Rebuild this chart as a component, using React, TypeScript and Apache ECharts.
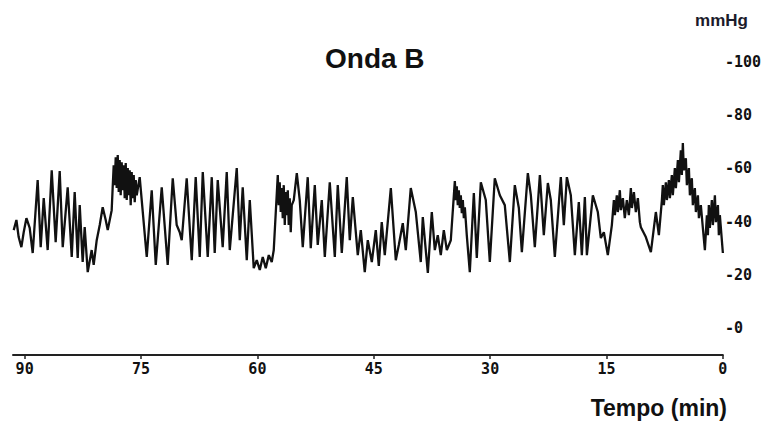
import React, { useEffect, useRef } from "react";
import * as echarts from "echarts";

// Time before the end of the recording (min) and intracranial pressure (mmHg)
const minutes = [
  91.41, 91.06, 90.77, 90.42, 90.12, 89.77, 89.35, 88.96, 88.32, 87.93,
  87.54, 87.03, 86.51, 86.0, 85.48, 85.09, 84.45, 83.93, 83.55, 83.16,
  82.9, 82.52, 82.26, 81.87, 81.36, 81.1, 80.71, 80.32, 79.94, 79.55,
  79.29, 78.78,
  78.65, 78.52, 78.39, 78.26, 78.13, 78.0, 77.87, 77.75, 77.62, 77.49,
  77.36, 77.23, 77.1, 76.97, 76.84, 76.71, 76.58, 76.46, 76.33, 76.2,
  76.07, 75.94, 75.81, 75.68, 75.55,
  75.17, 74.26, 73.62, 73.1, 72.33,
  71.56, 70.91, 70.4, 70.01, 69.75, 69.11, 68.46, 67.95, 67.43, 67.04,
  66.4, 65.88, 65.5, 65.11, 64.47, 63.95, 63.56, 62.66, 62.27, 61.89,
  61.37, 60.98, 60.47, 60.08, 59.69, 59.31, 58.92, 58.53, 58.15, 57.89,
  57.37, 57.25, 57.12, 56.99, 56.86, 56.73, 56.6, 56.47, 56.34, 56.21,
  56.08, 55.96, 55.83, 55.7, 55.57, 55.31,
  54.92, 54.54, 54.15,
  53.51, 53.12, 52.6, 52.22, 51.7, 51.31, 50.67, 50.02, 49.64, 49.12,
  48.48, 48.09, 47.7, 47.06, 46.67, 46.16, 45.77, 45.25, 44.74, 44.35,
  43.97, 43.58, 42.8, 42.16, 41.77, 41.26, 40.87, 40.23, 39.58, 38.94,
  38.68, 38.03, 37.52, 37.13, 36.75, 36.36, 35.97, 35.58, 35.07,
  34.55, 34.42, 34.3, 34.17, 34.04, 33.91, 33.78, 33.65, 33.52, 33.39,
  33.26, 33.01,
  32.62, 32.1, 31.72, 31.2, 30.56, 30.04, 29.4, 28.75,
  28.11, 27.46, 26.82, 26.3, 25.91, 25.14, 24.75, 24.24, 23.59, 23.08,
  22.56, 22.18, 21.66, 20.89, 20.5, 20.11, 19.6, 19.08, 18.57, 18.18,
  17.79, 17.53, 16.76, 16.12, 15.73, 15.34, 14.83,
  14.31, 14.05, 13.92, 13.67, 13.54, 13.28, 13.15, 12.89, 12.64, 12.38,
  12.12, 11.86, 11.73, 11.47, 11.22, 10.96, 10.7, 10.57,
  9.93, 9.28, 8.64, 8.25,
  7.86, 7.74, 7.61, 7.35, 7.22, 6.96, 6.83, 6.58, 6.45, 6.19,
  6.06, 5.8, 5.67, 5.42, 5.29, 5.16, 5.03, 4.77, 4.64, 4.38,
  4.25, 4.0, 3.87, 3.61, 3.48, 3.22, 3.09, 2.84, 2.58, 2.32,
  2.06, 1.93, 1.81, 1.68, 1.42, 1.29, 1.03, 0.9, 0.64, 0.52,
  0.39, 0.0,
];

const pressure = [
  36.8, 40.6, 34.2, 30.4, 36.0, 41.3, 37.6, 28.2, 55.6, 30.4,
  48.8, 29.3, 59.3, 32.3, 59.0, 30.4, 52.9, 26.7, 51.1, 26.3,
  46.2, 24.8, 37.9, 21.0, 29.3, 23.7, 33.0, 38.7, 45.4, 40.6,
  36.8, 44.3,
  52.9, 61.2, 53.7, 64.2, 52.6, 65.0, 51.1, 63.1, 49.9, 62.3,
  51.8, 61.2, 48.8, 62.0, 48.1, 60.1, 49.9, 59.3, 46.2, 58.6,
  48.8, 57.5, 47.3, 55.6, 49.9,
  56.7, 26.7, 51.8, 23.7, 52.9,
  23.7, 56.3, 38.7, 36.0, 33.0, 56.3, 25.5, 56.7, 26.7, 58.6,
  26.7, 56.7, 28.2, 55.6, 30.4, 58.6, 29.3, 60.1, 33.0, 52.9,
  25.5, 48.1, 22.5, 25.5, 21.8, 26.7, 22.5, 27.4, 24.8, 29.3,
  57.5, 46.2, 54.8, 43.6, 52.6, 41.3, 53.7, 38.7, 51.1, 42.4,
  51.8, 38.7, 48.8, 36.0, 46.2, 48.1,
  58.2, 48.1, 30.4,
  56.7, 30.0, 53.7, 31.2, 48.1, 26.7, 54.8, 26.7, 53.7, 28.2,
  56.7, 33.0, 49.2, 27.4, 36.8, 21.0, 33.0, 24.8, 36.8, 23.3,
  39.8, 27.4, 52.6, 25.5, 31.2, 39.4, 29.3, 52.6, 43.6, 24.8,
  41.7, 20.7, 43.6, 29.3, 34.9, 27.4, 36.8, 29.3, 33.0,
  55.2, 48.1, 53.3, 46.2, 51.8, 45.1, 49.9, 43.2, 48.1, 41.3,
  45.4, 34.9,
  21.0, 50.7, 26.3, 54.8, 48.1, 24.8, 56.3, 49.9,
  46.2, 24.8, 53.7, 45.1, 28.5, 58.2, 49.9, 30.4, 57.5, 34.9,
  54.5, 48.1, 26.7, 56.7, 38.7, 56.7, 49.9, 27.4, 47.3, 27.4,
  49.2, 27.4, 49.9, 43.6, 33.8, 36.0, 27.4,
  38.7, 48.1, 42.4, 49.9, 43.6, 51.8, 44.3, 48.8, 41.3, 48.1,
  42.4, 52.6, 45.1, 51.1, 43.6, 48.8, 39.8, 37.9,
  34.2, 28.5, 43.6, 34.9,
  48.1, 53.7, 46.2, 54.8, 48.1, 55.6, 48.8, 57.5, 49.9, 60.1,
  52.6, 63.1, 54.8, 66.8, 57.5, 69.5, 59.3, 63.8, 53.7, 60.1,
  49.9, 56.3, 46.2, 52.6, 43.6, 49.9, 41.3, 46.2, 37.6, 29.3,
  42.4, 34.9, 46.2, 37.6, 48.1, 38.7, 49.9, 39.8, 46.2, 34.9,
  42.4, 28.2,
];

const timeTicks = [0, 15, 30, 45, 60, 75, 90];
const pressureTicks = [0, 20, 40, 60, 80, 100];

export default function App() {
  const ref = useRef<HTMLDivElement>(null);

  useEffect(() => {
    if (!ref.current) return;
    const chart = echarts.init(ref.current, null, { renderer: "svg" });
    const data = minutes.map((m, i) => [m, pressure[i]]);
    const monoLabel = {
      fontFamily: "DejaVu Sans Mono",
      fontWeight: "bold" as const,
      fontSize: 15,
      color: "#111",
    };
    chart.setOption({
      animation: false,
      backgroundColor: "#fff",
      grid: { left: 13, right: 41, top: 62, bottom: 95 },
      xAxis: {
        type: "value",
        min: 0,
        max: 91.5,
        inverse: true,
        offset: 27,
        axisLine: {
          show: true,
          onZero: false,
          lineStyle: { color: "#222", width: 2 },
        },
        axisTick: {
          show: true,
          customValues: timeTicks,
          length: 4,
          lineStyle: { color: "#222", width: 1.5 },
        },
        axisLabel: {
          ...monoLabel,
          customValues: timeTicks,
          margin: 6,
          formatter: (v: number) => String(v),
        },
        splitLine: { show: false },
      },
      yAxis: {
        type: "value",
        position: "right",
        min: 0,
        max: 100,
        interval: 20,
        axisLine: { show: false },
        axisTick: { show: false },
        splitLine: { show: false },
        axisLabel: {
          ...monoLabel,
          margin: 2,
          customValues: pressureTicks,
          formatter: (v: number) => "-" + v,
        },
      },
      graphic: [
        {
          type: "text",
          left: 325,
          top: 44,
          style: {
            text: "Onda B",
            font: 'bold 28px "Liberation Sans", Arial, sans-serif',
            fill: "#111",
          },
        },
        {
          type: "text",
          right: 16,
          top: 12,
          style: {
            text: "mmHg",
            font: 'bold 17px "Liberation Sans", Arial, sans-serif',
            fill: "#1b1b2b",
          },
        },
        {
          type: "text",
          right: 37,
          top: 396,
          style: {
            text: "Tempo (min)",
            font: 'bold 23px "Liberation Sans", Arial, sans-serif',
            fill: "#111",
          },
        },
      ],
      series: [
        {
          type: "line",
          data,
          showSymbol: false,
          lineStyle: { color: "#111", width: 2.3 },
        },
      ],
    });
    return () => chart.dispose();
  }, []);

  return (
    <div
      ref={ref}
      style={{ position: "fixed", left: 0, top: 0, width: 764, height: 423 }}
    />
  );
}
